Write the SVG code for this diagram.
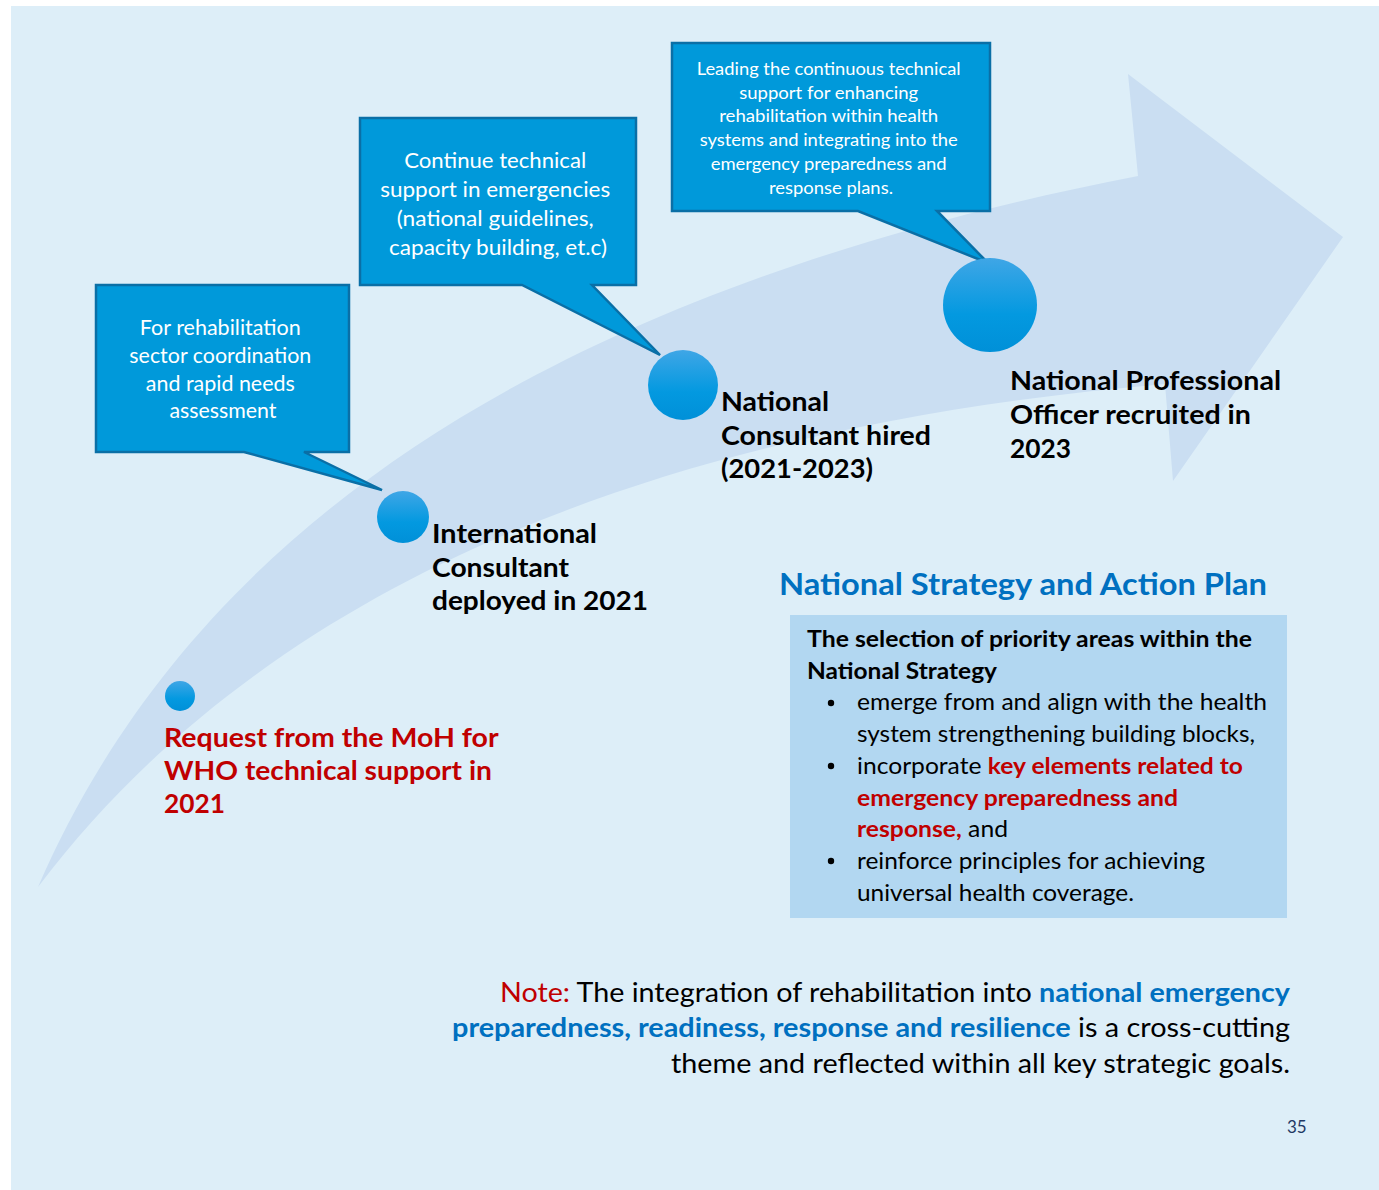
<svg xmlns="http://www.w3.org/2000/svg" width="1379" height="1190" viewBox="0 0 1379 1190">
  <defs>
    <linearGradient id="dotFill" x1="0" y1="0" x2="0" y2="1">
      <stop offset="0" stop-color="#3FA6E6"/>
      <stop offset="0.6" stop-color="#0399E0"/>
      <stop offset="1" stop-color="#0090D8"/>
    </linearGradient>
    <style>
      text { font-family: Lato, "Open Sans", "Liberation Sans", sans-serif; }
      .bubble { fill: #0099DA; stroke: #0A6FA6; stroke-width: 2.5; stroke-linejoin: miter; }
      .btext { fill: #FFFFFF; text-anchor: middle; }
      .dot { fill: url(#dotFill); }
      .label { fill: #000000; font-weight: bold; font-size: 26px; }
      .body { font-size: 23px; fill: #000000; }
      .note { font-size: 26px; fill: #000000; text-anchor: end; }
      .bold { font-weight: bold; }
      .red { fill: #C00000; }
      .blue { fill: #0070C0; }
    </style>
  </defs>

  <!-- page background -->
  <rect x="11" y="6" width="1368" height="1184" fill="#DDEEF8"/>

  <!-- sweeping timeline arrow -->
  <path id="timeline-arrow" d="M38,887 C180,560 500,300 1138,176 L1128,74 L1343,237 L1173,481 L1165,384 C750,420 300,540 38,887 Z" fill="#CADEF2"/>

  <!-- callout pointers are part of each bubble outline -->
  <g id="connectors"></g>

  <!-- milestone 1 -->
  <g id="milestone-request">
    <circle class="dot" cx="180" cy="696" r="15"/>
    <text class="label red" font-size="27">
      <tspan x="164" y="747" textLength="334" lengthAdjust="spacingAndGlyphs">Request from the MoH for</tspan>
      <tspan x="164" y="780" textLength="328" lengthAdjust="spacingAndGlyphs">WHO technical support in</tspan>
      <tspan x="164" y="813" textLength="61" lengthAdjust="spacingAndGlyphs">2021</tspan>
    </text>
  </g>

  <!-- milestone 2 -->
  <g id="milestone-international">
    <path class="bubble" d="M96,285 H349 V452 H304 L382,490 L244,452 H96 Z"/>
    <text class="btext" font-size="21">
      <tspan x="223" y="335" textLength="161" lengthAdjust="spacingAndGlyphs">For rehabilitation</tspan>
      <tspan x="223" y="363" textLength="182" lengthAdjust="spacingAndGlyphs">sector coordination</tspan>
      <tspan x="223" y="391" textLength="149" lengthAdjust="spacingAndGlyphs">and rapid needs</tspan>
      <tspan x="223" y="418" textLength="107" lengthAdjust="spacingAndGlyphs">assessment</tspan>
    </text>
    <circle class="dot" cx="403" cy="517" r="26"/>
    <text class="label">
      <tspan x="432" y="543" textLength="165" lengthAdjust="spacingAndGlyphs">International</tspan>
      <tspan x="432" y="577" textLength="137" lengthAdjust="spacingAndGlyphs">Consultant</tspan>
      <tspan x="432" y="610" textLength="216" lengthAdjust="spacingAndGlyphs">deployed in 2021</tspan>
    </text>
  </g>

  <!-- milestone 3 -->
  <g id="milestone-national">
    <path class="bubble" d="M360,118 H636 V285 H592 L660,355 L522,285 H360 Z"/>
    <text class="btext" font-size="22">
      <tspan x="498" y="168" textLength="182" lengthAdjust="spacingAndGlyphs">Continue technical</tspan>
      <tspan x="498" y="197" textLength="230" lengthAdjust="spacingAndGlyphs">support in emergencies</tspan>
      <tspan x="498" y="226" textLength="197" lengthAdjust="spacingAndGlyphs">(national guidelines,</tspan>
      <tspan x="498" y="255" textLength="218" lengthAdjust="spacingAndGlyphs">capacity building, et.c)</tspan>
    </text>
    <circle class="dot" cx="683" cy="385" r="35"/>
    <text class="label">
      <tspan x="721" y="411" textLength="108" lengthAdjust="spacingAndGlyphs">National</tspan>
      <tspan x="721" y="445" textLength="210" lengthAdjust="spacingAndGlyphs">Consultant hired</tspan>
      <tspan x="721" y="478" textLength="152" lengthAdjust="spacingAndGlyphs">(2021-2023)</tspan>
    </text>
  </g>

  <!-- milestone 4 -->
  <g id="milestone-npo">
    <path class="bubble" d="M672,43 H990 V211 H937 L988,263 L858,211 H672 Z"/>
    <text class="btext" font-size="18">
      <tspan x="831" y="75" textLength="264" lengthAdjust="spacingAndGlyphs">Leading the continuous technical</tspan>
      <tspan x="831" y="99" textLength="179" lengthAdjust="spacingAndGlyphs">support for enhancing</tspan>
      <tspan x="831" y="122" textLength="219" lengthAdjust="spacingAndGlyphs">rehabilitation within health</tspan>
      <tspan x="831" y="146" textLength="258" lengthAdjust="spacingAndGlyphs">systems and integrating into the</tspan>
      <tspan x="831" y="170" textLength="236" lengthAdjust="spacingAndGlyphs">emergency preparedness and</tspan>
      <tspan x="831" y="194" textLength="124" lengthAdjust="spacingAndGlyphs">response plans.</tspan>
    </text>
    <circle class="dot" cx="990" cy="305" r="47"/>
    <text class="label">
      <tspan x="1010" y="390" textLength="271" lengthAdjust="spacingAndGlyphs">National Professional</tspan>
      <tspan x="1010" y="424" textLength="241" lengthAdjust="spacingAndGlyphs">Officer recruited in</tspan>
      <tspan x="1010" y="458" textLength="61" lengthAdjust="spacingAndGlyphs">2023</tspan>
    </text>
  </g>

  <!-- strategy panel -->
  <g id="strategy-panel">
    <text class="blue bold" x="779" y="595" font-size="31" textLength="488" lengthAdjust="spacingAndGlyphs">National Strategy and Action Plan</text>
    <rect x="790" y="615" width="497" height="303" fill="#B2D7F1"/>
    <text class="body bold" x="807" y="647" textLength="445" lengthAdjust="spacingAndGlyphs">The selection of priority areas within the</text>
    <text class="body bold" x="807" y="679" textLength="190" lengthAdjust="spacingAndGlyphs">National Strategy</text>
    <g fill="#000000">
      <circle cx="831" cy="703" r="3.2"/>
      <circle cx="831" cy="766" r="3.2"/>
      <circle cx="831" cy="861" r="3.2"/>
    </g>
    <text class="body" x="857" y="710" textLength="410" lengthAdjust="spacingAndGlyphs">emerge from and align with the health</text>
    <text class="body" x="857" y="742" textLength="398" lengthAdjust="spacingAndGlyphs">system strengthening building blocks,</text>
    <text class="body" x="857" y="774" textLength="386" lengthAdjust="spacingAndGlyphs">incorporate <tspan class="red bold">key elements related to</tspan></text>
    <text class="body red bold" x="857" y="806" textLength="321" lengthAdjust="spacingAndGlyphs">emergency preparedness and</text>
    <text class="body" x="857" y="837" textLength="151" lengthAdjust="spacingAndGlyphs"><tspan class="red bold">response,</tspan> and</text>
    <text class="body" x="857" y="869" textLength="348" lengthAdjust="spacingAndGlyphs">reinforce principles for achieving</text>
    <text class="body" x="857" y="901" textLength="277" lengthAdjust="spacingAndGlyphs">universal health coverage.</text>
  </g>

  <!-- footnote -->
  <g id="note">
    <text class="note" x="1290" y="1002" textLength="790" lengthAdjust="spacingAndGlyphs"><tspan class="red">Note:</tspan> The integration of rehabilitation into <tspan class="blue bold">national emergency</tspan></text>
    <text class="note" x="1290" y="1037" textLength="838" lengthAdjust="spacingAndGlyphs"><tspan class="blue bold">preparedness, readiness, response and resilience</tspan> is a cross-cutting</text>
    <text class="note" x="1290" y="1073" textLength="619" lengthAdjust="spacingAndGlyphs">theme and reflected within all key strategic goals.</text>
  </g>

  <text id="page-number" x="1287" y="1133" font-size="17" fill="#1F3864">35</text>
</svg>
